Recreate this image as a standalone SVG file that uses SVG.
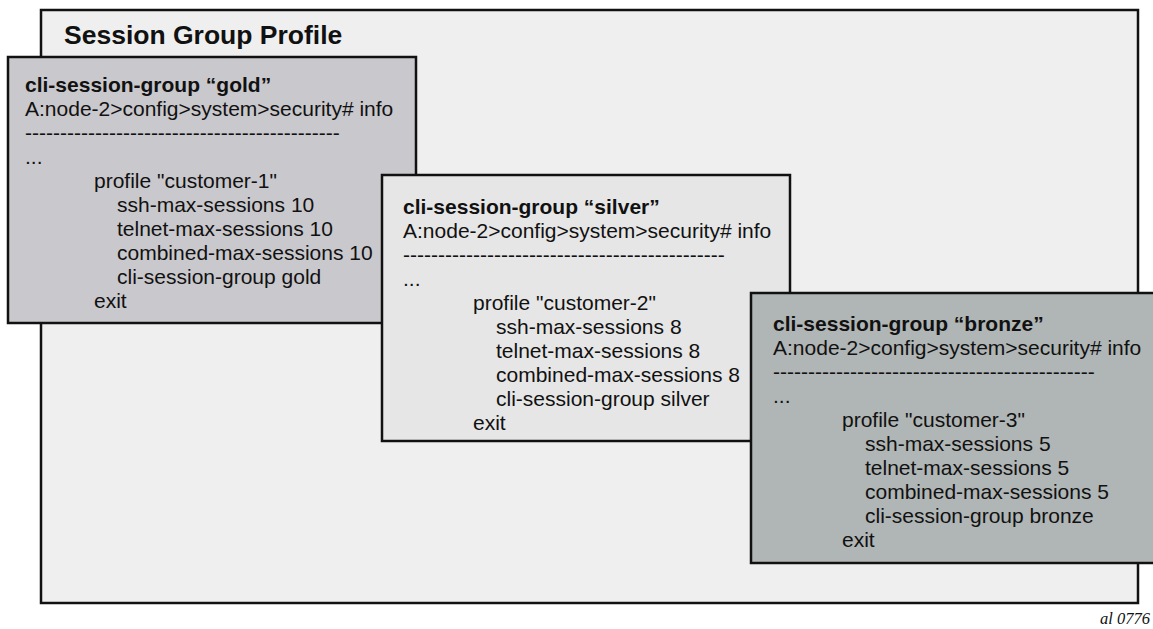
<svg xmlns="http://www.w3.org/2000/svg" width="1153" height="629" viewBox="0 0 1153 629">
<style>
.box{stroke:#111;stroke-width:2.5}
.t{font-family:"Liberation Sans",Arial,sans-serif;font-size:21px;fill:#111}
.b{font-weight:bold}
.h{font-family:"Liberation Sans",Arial,sans-serif;font-size:26.5px;font-weight:bold;fill:#111}
.id{font-family:"Liberation Serif","Times New Roman",serif;font-size:16.5px;font-style:italic;fill:#111}
</style>
<rect width="1153" height="629" fill="#fff"/>
<g id="profile">
<rect class="box" x="41" y="10" width="1097" height="593" fill="#efefef"/>
<text class="h" x="64" y="44">Session Group Profile</text>
</g>
<g id="gold">
<rect class="box" x="8" y="57" width="408" height="266" fill="#c9c8cd"/>
<text class="t b" x="25" y="92">cli-session-group “gold”</text>
<text class="t" x="25" y="116">A:node-2&gt;config&gt;system&gt;security# info</text>
<text class="t" x="25" y="140">---------------------------------------------</text>
<text class="t" x="25" y="164">...</text>
<text class="t" x="94" y="188">profile "customer-1"</text>
<text class="t" x="117" y="212">ssh-max-sessions 10</text>
<text class="t" x="117" y="236">telnet-max-sessions 10</text>
<text class="t" x="117" y="260">combined-max-sessions 10</text>
<text class="t" x="117" y="284">cli-session-group gold</text>
<text class="t" x="94" y="308">exit</text>
</g>
<g id="silver">
<rect class="box" x="382" y="175" width="408" height="266" fill="#e6e6e6"/>
<text class="t b" x="403" y="214">cli-session-group “silver”</text>
<text class="t" x="403" y="238">A:node-2&gt;config&gt;system&gt;security# info</text>
<text class="t" x="403" y="262">----------------------------------------------</text>
<text class="t" x="403" y="286">...</text>
<text class="t" x="473" y="310">profile "customer-2"</text>
<text class="t" x="496" y="334">ssh-max-sessions 8</text>
<text class="t" x="496" y="358">telnet-max-sessions 8</text>
<text class="t" x="496" y="382">combined-max-sessions 8</text>
<text class="t" x="496" y="406">cli-session-group silver</text>
<text class="t" x="473" y="430">exit</text>
</g>
<g id="bronze">
<rect class="box" x="751" y="293" width="410" height="270" fill="#b0b5b5"/>
<text class="t b" x="773" y="331">cli-session-group “bronze”</text>
<text class="t" x="773" y="355">A:node-2&gt;config&gt;system&gt;security# info</text>
<text class="t" x="773" y="379">----------------------------------------------</text>
<text class="t" x="773" y="403">...</text>
<text class="t" x="842" y="427">profile "customer-3"</text>
<text class="t" x="865" y="451">ssh-max-sessions 5</text>
<text class="t" x="865" y="475">telnet-max-sessions 5</text>
<text class="t" x="865" y="499">combined-max-sessions 5</text>
<text class="t" x="865" y="523">cli-session-group bronze</text>
<text class="t" x="842" y="547">exit</text>
</g>
<g id="connectors"></g>
<text class="id" x="1150" y="624" text-anchor="end">al  0776</text>
</svg>
